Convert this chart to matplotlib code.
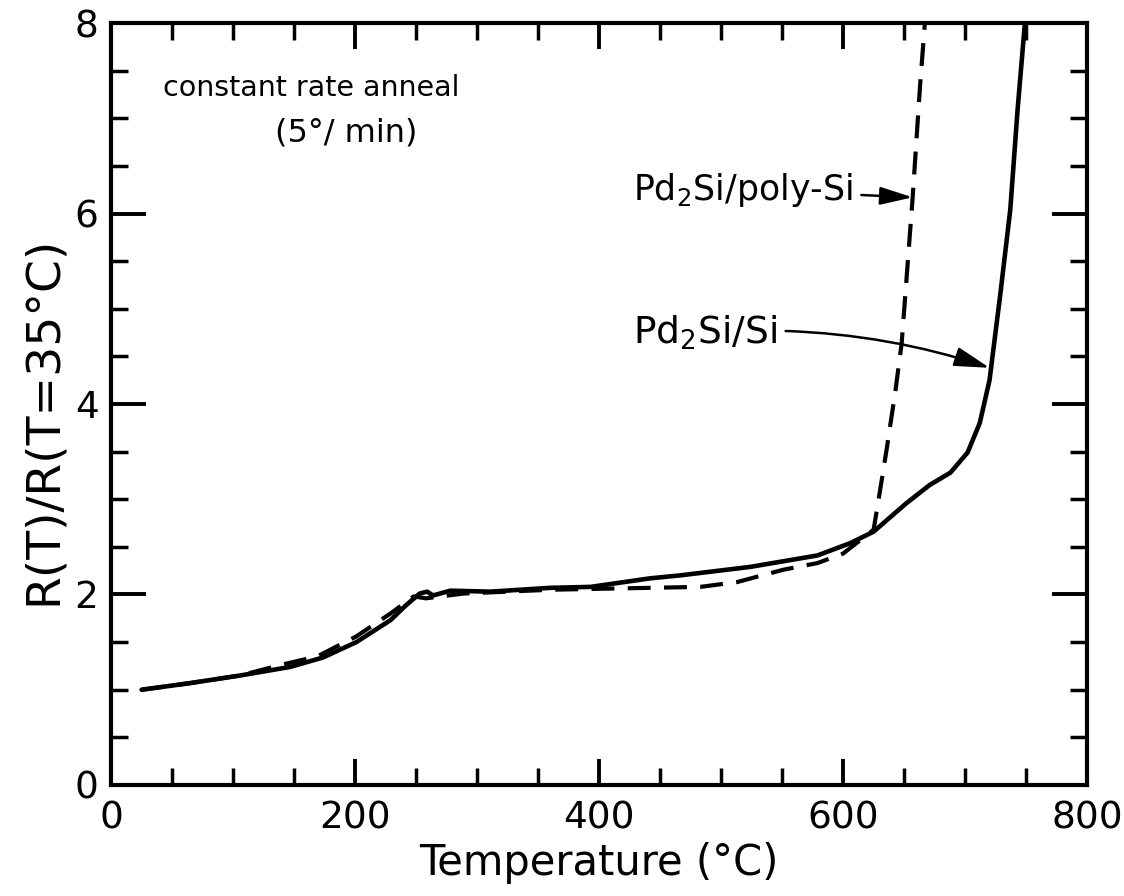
import matplotlib
matplotlib.use("Agg")
import matplotlib.pyplot as plt
from matplotlib.ticker import MultipleLocator

plt.rcParams['font.family'] = ['DejaVu Sans']
plt.rcParams['mathtext.default'] = 'regular'

# Pd2Si/Si (solid)
si_T = [25, 65, 106, 147, 174, 201, 229, 242, 253, 259, 264, 278, 311, 360, 393,
        442, 466, 524, 579, 606, 625, 652, 671, 688, 702, 712, 720, 729, 737, 743, 749]
si_R = [1.0, 1.07, 1.15, 1.24, 1.34, 1.50, 1.73, 1.89, 2.01, 2.03, 1.99, 2.04, 2.03, 2.07, 2.08,
        2.17, 2.20, 2.29, 2.41, 2.54, 2.66, 2.96, 3.15, 3.28, 3.49, 3.80, 4.25, 5.17, 6.04, 7.09, 8.0]

# Pd2Si/poly-Si (dashed)
poly_T = [25, 65, 106, 139, 169, 201, 229, 248, 258, 289, 360, 442, 483, 513, 551,
          579, 600, 625, 630, 636, 643, 648, 657, 663, 667]
poly_R = [1.0, 1.07, 1.15, 1.26, 1.35, 1.56, 1.80, 1.98, 1.96, 2.01, 2.05, 2.07, 2.08, 2.13, 2.26,
          2.33, 2.43, 2.68, 3.07, 3.55, 4.15, 4.64, 6.17, 7.33, 8.0]

x_ticks = [0, 200, 400, 600, 800]
y_ticks = [0, 2, 4, 6, 8]

fig = plt.figure(figsize=(11.24, 8.96), dpi=100)
ax = fig.add_axes([0.0988, 0.1239, 0.9672 - 0.0988, 0.9743 - 0.1239])

ax.plot(si_T, si_R, color='black', lw=3.3, solid_capstyle='round')
ax.plot(poly_T, poly_R, color='black', lw=3.0, linestyle=(0, (5.5, 3.2)))

ax.set_xlim(0, 800)
ax.set_ylim(0, 8)
ax.set_xticks(x_ticks)
ax.set_yticks(y_ticks)
ax.xaxis.set_minor_locator(MultipleLocator(50))
ax.yaxis.set_minor_locator(MultipleLocator(0.5))

for s in ax.spines.values():
    s.set_linewidth(3.0)

ax.tick_params(axis='x', which='major', direction='in', length=19, width=2.8,
               top=True, bottom=True, labelsize=27, pad=11)
ax.tick_params(axis='x', which='minor', direction='in', length=12, width=2.5,
               top=True, bottom=True)
ax.tick_params(axis='y', which='major', direction='in', length=25, width=2.8,
               left=True, right=True, labelsize=27, pad=9)
ax.tick_params(axis='y', which='minor', direction='in', length=12, width=2.5,
               left=True, right=True)

ax.set_xlabel('Temperature (°C)', fontsize=30, labelpad=4)
ax.set_ylabel('R(T)/R(T=35°C)', fontsize=34)
ax.yaxis.set_label_coords(-0.046, 0.478)

ax.text(164, 7.32, 'constant rate anneal', fontsize=20.5, ha='center', va='center')
ax.text(193, 6.85, '(5°/ min)', fontsize=23, ha='center', va='center')

ax.annotate('Pd$_2$Si/poly-Si', xy=(657, 6.17), xytext=(428, 6.25),
            fontsize=25, ha='left', va='center',
            arrowprops=dict(arrowstyle='-|>,head_length=0.8,head_width=0.22',
                            color='black', lw=1.8, shrinkA=4, shrinkB=0))
ax.annotate('Pd$_2$Si/Si', xy=(720, 4.38), xytext=(428, 4.75),
            fontsize=27, ha='left', va='center',
            arrowprops=dict(arrowstyle='-|>,head_length=0.8,head_width=0.22',
                            color='black', lw=1.8, shrinkA=4, shrinkB=0,
                            connectionstyle='arc3,rad=-0.1'))

fig.savefig('out.png', dpi=100)
